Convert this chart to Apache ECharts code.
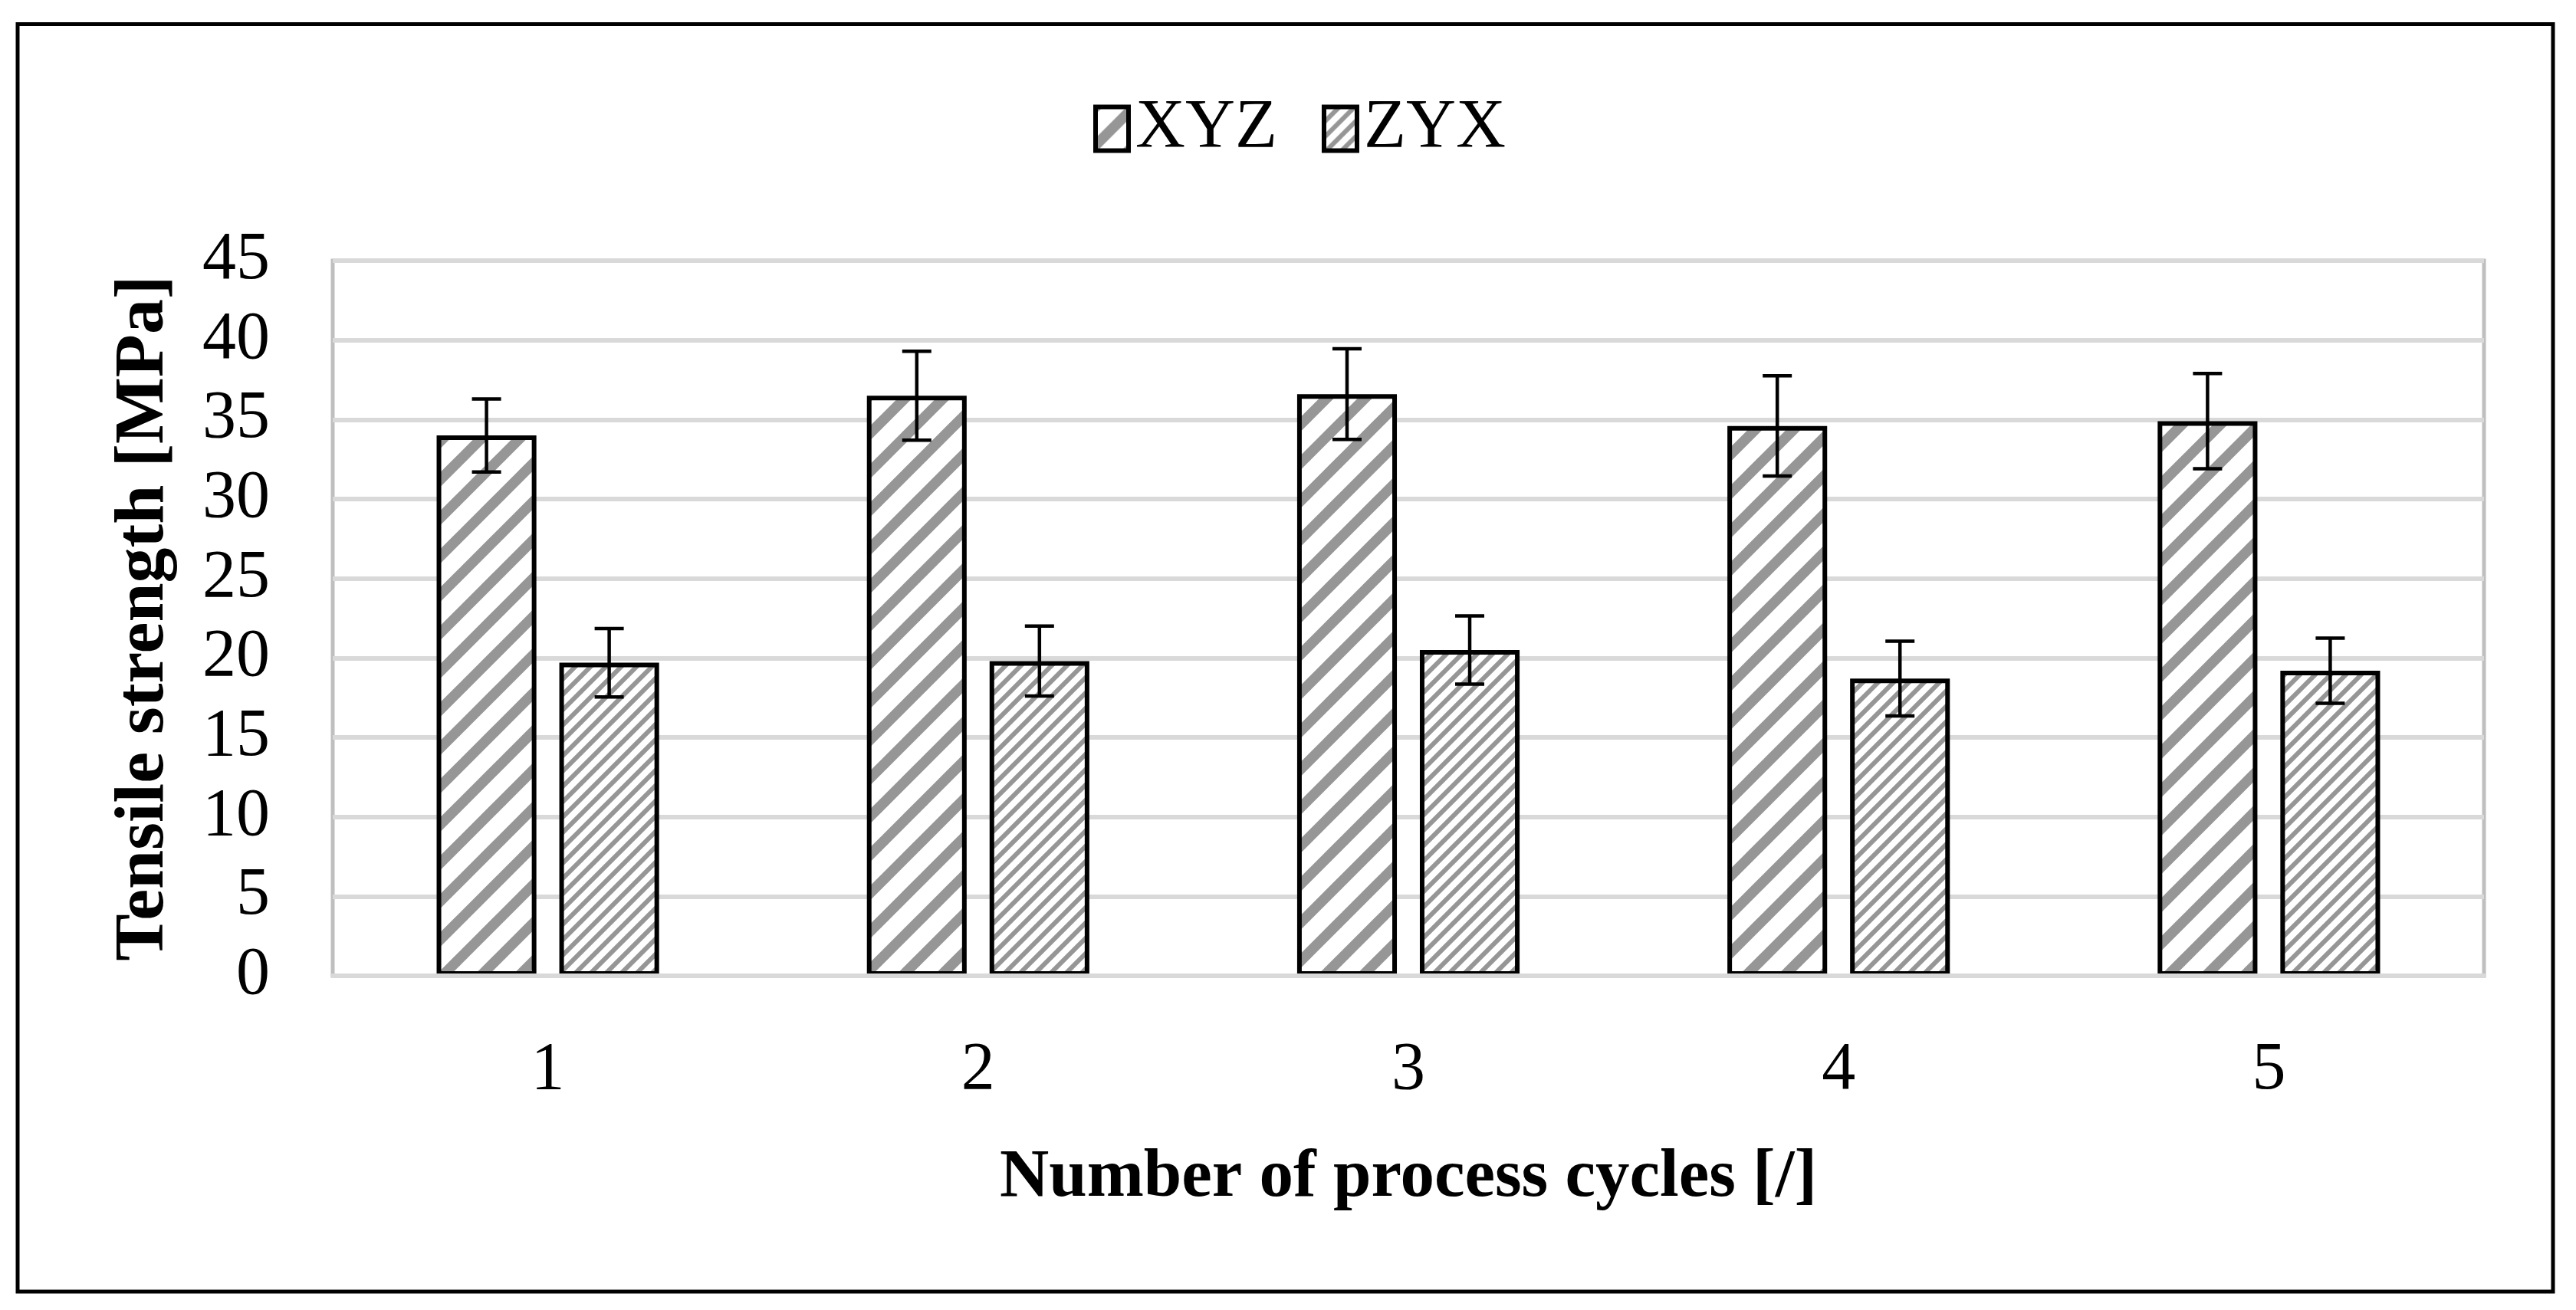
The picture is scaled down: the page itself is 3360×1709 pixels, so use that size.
<!DOCTYPE html>
<html><head><meta charset="utf-8">
<script src="https://cdn.jsdelivr.net/npm/echarts@6/dist/echarts.min.js"></script>
<style>html,body{margin:0;padding:0;background:#fff;} #c{width:3360px;height:1709px;}</style>
</head><body><div id="c"></div>
<script>
// ---- data ----
const categories = ['1', '2', '3', '4', '5'];
const seriesNames = ['XYZ', 'ZYX'];
const xyzMean = [34.0, 36.5, 36.6, 34.6, 34.9];
const xyzErr  = [2.3, 2.8, 2.85, 3.15, 3.0];
const zyxMean = [19.7, 19.8, 20.5, 18.7, 19.2];
const zyxErr  = [2.15, 2.2, 2.15, 2.35, 2.05];
const yMin = 0, yMax = 45, yStep = 5;
const xTitle = 'Number of process cycles [/]';
const yTitle = 'Tensile strength [MPa]';

// ---- style ----
const BAR_GAP = 0.23, CAT_GAP = 0.483;
const FONT = '"Liberation Serif", "Times New Roman", serif';
const GRAY = '#969696';

function stripePattern(period, thick, color) {
  const c = document.createElement('canvas');
  c.width = period; c.height = period;
  const ctx = c.getContext('2d');
  ctx.fillStyle = '#fff'; ctx.fillRect(0, 0, period, period);
  ctx.strokeStyle = color; ctx.lineWidth = thick;
  for (const o of [-period, 0, period]) {
    ctx.beginPath();
    ctx.moveTo(o - period, 2 * period);
    ctx.lineTo(o + 2 * period, -period);
    ctx.stroke();
  }
  return c;
}
const wideFill = { image: stripePattern(50, 13.5, GRAY), repeat: 'repeat' };
const narrowFill = { image: stripePattern(20, 6, GRAY), repeat: 'repeat' };

function errSeries(means, errs, idx) {
  return {
    type: 'custom',
    z: 10,
    silent: true,
    data: means.map((m, i) => [i, m - errs[i], m + errs[i]]),
    encode: { x: 0, y: [1, 2] },
    renderItem(params, api) {
      const band = api.size([1, 0])[0];
      const barW = band * (1 - CAT_GAP) / (2 + BAR_GAP);
      const off = (idx === 0 ? -1 : 1) * barW * (1 + BAR_GAP) / 2;
      const lo = api.coord([api.value(0), api.value(1)]);
      const hi = api.coord([api.value(0), api.value(2)]);
      const x = lo[0] + off, cap = 19;
      const st = { stroke: '#000', lineWidth: 4.5 };
      return { type: 'group', children: [
        { type: 'line', shape: { x1: x, y1: lo[1], x2: x, y2: hi[1] }, style: st },
        { type: 'line', shape: { x1: x - cap, y1: lo[1], x2: x + cap, y2: lo[1] }, style: st },
        { type: 'line', shape: { x1: x - cap, y1: hi[1], x2: x + cap, y2: hi[1] }, style: st }
      ]};
    }
  };
}

const chart = echarts.init(document.getElementById('c'), null, { renderer: 'canvas' });
chart.setOption({
  backgroundColor: '#fff',
  animation: false,
  graphic: [{
    type: 'rect', z: 100, silent: true,
    shape: { x: 23, y: 31.5, width: 3307, height: 1653.5 },
    style: { fill: 'none', stroke: '#000', lineWidth: 5 }
  }],
  legend: {
    data: seriesNames,
    left: 1421, top: 118,
    itemWidth: 43, itemHeight: 57, itemGap: 58,
    icon: 'rect',
    itemStyle: { borderColor: '#000', borderWidth: 6 },
    textStyle: { fontFamily: FONT, fontSize: 90, color: '#000', padding: [0, 0, 0, 4] }
  },
  grid: {
    left: 434, right: 120, top: 340, bottom: 436,
    show: true, borderColor: '#bfbfbf', borderWidth: 5, backgroundColor: 'transparent'
  },
  xAxis: {
    type: 'category', data: categories, z: 5,
    axisLine: { show: true, lineStyle: { color: '#d9d9d9', width: 6 } },
    axisTick: { show: false },
    axisLabel: { fontFamily: FONT, fontSize: 88, color: '#000', margin: 80 },
    name: xTitle, nameLocation: 'middle', nameGap: 220,
    nameTextStyle: { fontFamily: FONT, fontSize: 89, fontWeight: 'bold', color: '#000' }
  },
  yAxis: {
    type: 'value', min: yMin, max: yMax, interval: yStep,
    axisLine: { show: false }, axisTick: { show: false },
    splitLine: { lineStyle: { color: '#d9d9d9', width: 6 } },
    axisLabel: { fontFamily: FONT, fontSize: 88, color: '#000', margin: 82 },
    name: yTitle, nameLocation: 'middle', nameGap: 200,
    nameTextStyle: { fontFamily: FONT, fontSize: 92, fontWeight: 'bold', color: '#000' }
  },
  series: [
    { name: seriesNames[0], type: 'bar', data: xyzMean, barGap: (BAR_GAP * 100) + '%', barCategoryGap: (CAT_GAP * 100) + '%',
      itemStyle: { color: wideFill, borderColor: '#000', borderWidth: 6 } },
    { name: seriesNames[1], type: 'bar', data: zyxMean, barGap: (BAR_GAP * 100) + '%', barCategoryGap: (CAT_GAP * 100) + '%',
      itemStyle: { color: narrowFill, borderColor: '#000', borderWidth: 6 } },
    errSeries(xyzMean, xyzErr, 0),
    errSeries(zyxMean, zyxErr, 1)
  ]
});
</script></body></html>
